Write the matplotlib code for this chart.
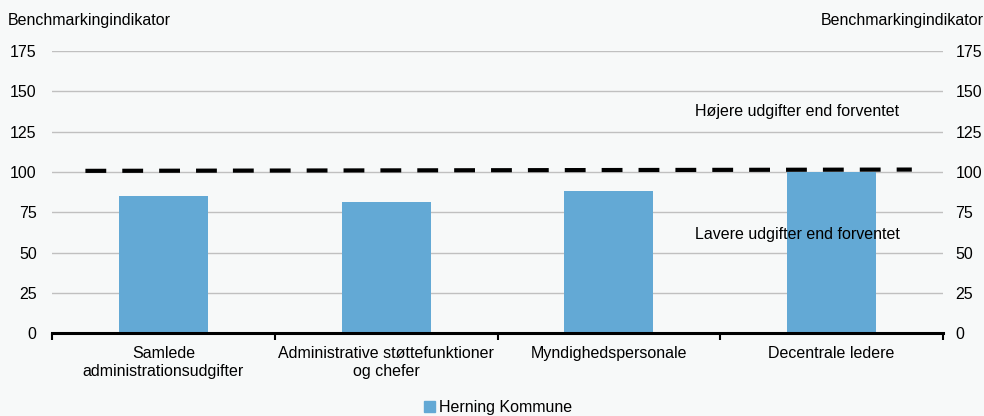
import matplotlib
matplotlib.use("Agg")
import matplotlib.pyplot as plt
from matplotlib.patches import Patch
import numpy as np

categories = ["Samlede\nadministrationsudgifter",
              "Administrative støttefunktioner\nog chefer",
              "Myndighedspersonale",
              "Decentrale ledere"]
values = [85.2, 81.2, 88.2, 100.0]
ref_x = [-0.35, 3.36]
ref_y = [100.7, 101.5]
yticks = [0, 25, 50, 75, 100, 125, 150, 175]

bg = "#f7f9f9"
bar_color = "#63a9d5"
fs = 11.5

plt.rcParams["font.family"] = ["Liberation Sans", "DejaVu Sans"]
plt.rcParams["font.size"] = fs

fig = plt.figure(figsize=(9.84, 4.16), dpi=100, facecolor=bg)
ax = fig.add_axes([52 / 984, 1 - 333.3 / 416, (943 - 52) / 984, (333.3 - 51) / 416])
ax.set_facecolor(bg)

x = np.arange(len(categories))
ax.bar(x, values, width=0.4, color=bar_color, zorder=2)
ax.plot(ref_x, ref_y, color="black", lw=3, dashes=(5, 3.85), solid_capstyle="butt",
        dash_capstyle="butt", zorder=3)

ax.set_xlim(-0.5, len(categories) - 0.5)
ax.set_ylim(0, 175)
ax.set_yticks(yticks)
ax.yaxis.grid(True, color="#c0c0c0", lw=1, zorder=0)
ax.set_axisbelow(True)

for s in ["top", "left", "right"]:
    ax.spines[s].set_visible(False)
ax.spines["bottom"].set_linewidth(2.2)
ax.spines["bottom"].set_zorder(4)

ax.set_xticks(x)
ax.set_xticklabels(categories, fontsize=fs, linespacing=1.25)
ax.tick_params(axis="x", which="major", length=0, pad=9)
ax.set_xticks(np.arange(-0.5, len(categories)), minor=True)
ax.tick_params(axis="x", which="minor", length=5, width=1.5, color="black")
ax.tick_params(axis="y", length=0, pad=11, labelsize=fs)

ax2 = ax.twinx()
ax2.set_ylim(0, 175)
ax2.set_yticks(yticks)
for s in ["top", "left", "right", "bottom"]:
    ax2.spines[s].set_visible(False)
ax2.tick_params(axis="y", length=0, pad=9, labelsize=fs)

fig.text(8 / 984, 1 - 20 / 416, "Benchmarkingindikator", ha="left", va="center", fontsize=fs)
fig.text(984 / 984, 1 - 20 / 416, "Benchmarkingindikator", ha="right", va="center", fontsize=fs)

ax.text(2.387, 137.8, "Højere udgifter end forventet", ha="left", va="center", fontsize=fs)
ax.text(2.387, 61, "Lavere udgifter end forventet", ha="left", va="center", fontsize=fs)

fig.legend(handles=[Patch(color=bar_color, label="Herning Kommune")],
           loc="center", bbox_to_anchor=(498 / 984, 1 - 407.5 / 416), frameon=False,
           handlelength=0.7, handleheight=0.7, handletextpad=0.2, fontsize=fs)

fig.savefig("out.png", dpi=100, facecolor=bg)
